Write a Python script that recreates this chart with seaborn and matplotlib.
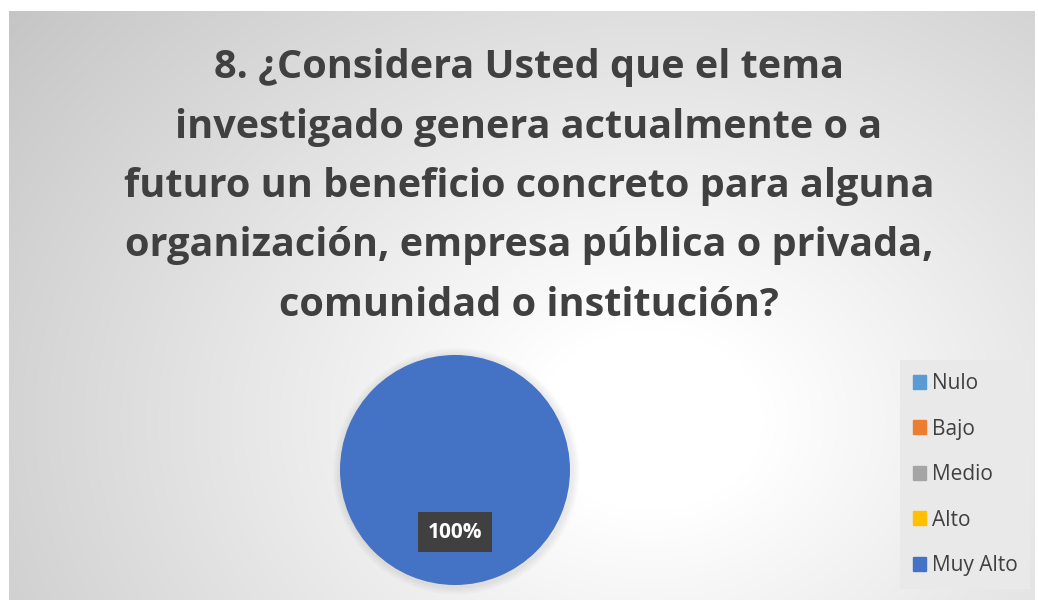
import numpy as np
import seaborn as sns
import matplotlib.pyplot as plt
from matplotlib.patches import Rectangle, Circle

# Datos
categorias = ['Nulo', 'Bajo', 'Medio', 'Alto', 'Muy Alto']
porcentajes = [0, 0, 0, 0, 100]
colores = ['#5B9BD5', '#ED7D31', '#A5A5A5', '#FFC000', '#4472C4']
titulo = ('8. ¿Considera Usted que el tema\n'
          'investigado genera actualmente o a\n'
          'futuro un beneficio concreto para alguna\n'
          'organización, empresa pública o privada,\n'
          'comunidad o institución?')

sns.set_theme(style='white')
plt.rcParams['font.family'] = ['Open Sans', 'DejaVu Sans']

fig = plt.figure(figsize=(10.38, 6.07), dpi=100)

# Fondo con degradado radial
bg = fig.add_axes([9 / 1038, 1 - 600 / 607, 1026 / 1038, 589 / 607])
yy, xx = np.mgrid[11:600, 9:1035]
d = np.sqrt(((xx - 650) / 750) ** 2 + ((yy - 420) / 600) ** 2)
g = np.clip(1 - 0.24 * np.clip(d - 0.15, 0, None), 0.76, 1.0)
bg.imshow(np.dstack([g, g, g]), aspect='auto', extent=(0, 1, 0, 1))
bg.set_axis_off()

fig.text(529 / 1038, 1 - 186.5 / 607, titulo, ha='center', va='center',
         fontsize=28.5, fontweight='bold', color='#404040', linespacing=1.68)

ax = fig.add_axes([330 / 1038, 1 - 595 / 607, 250 / 1038, 250 / 607])
# sombra suave
for r in [0.985, 0.97, 0.955, 0.94]:
    ax.add_patch(Circle((0.01, -0.01), r, color='black', alpha=0.018, lw=0))
wedges, textos, autot = ax.pie(
    porcentajes, colors=colores, startangle=90, counterclock=False,
    radius=0.92, wedgeprops=dict(edgecolor='none', linewidth=0),
    autopct=lambda p: f'{p:.0f}%' if p > 0 else '', pctdistance=0.54,
    textprops=dict(color='white', fontweight='bold', fontsize=15))
for t in autot:
    if t.get_text():
        t.set_bbox(dict(boxstyle='square,pad=0.45', fc='#404040', ec='none'))
ax.set_xlim(-1, 1)
ax.set_ylim(-1, 1)
ax.set_aspect('equal')
ax.set_axis_off()

handles = [Rectangle((0, 0), 1, 1, color=c) for c in colores]
leg = fig.legend(handles, categorias, loc='upper left',
                 bbox_to_anchor=(900 / 1038, 1 - 360 / 607),
                 frameon=True, fontsize=15, labelcolor='#404040',
                 handlelength=0.65, handleheight=0.65, handletextpad=0.25,
                 labelspacing=1.18, borderpad=0.62, borderaxespad=0)
leg.get_frame().set_facecolor('#e9e9e9')
leg.get_frame().set_edgecolor('none')
leg.get_frame().set_alpha(1)
leg.get_frame().set_boxstyle('square', pad=0)

fig.savefig('out.png', dpi=100)
